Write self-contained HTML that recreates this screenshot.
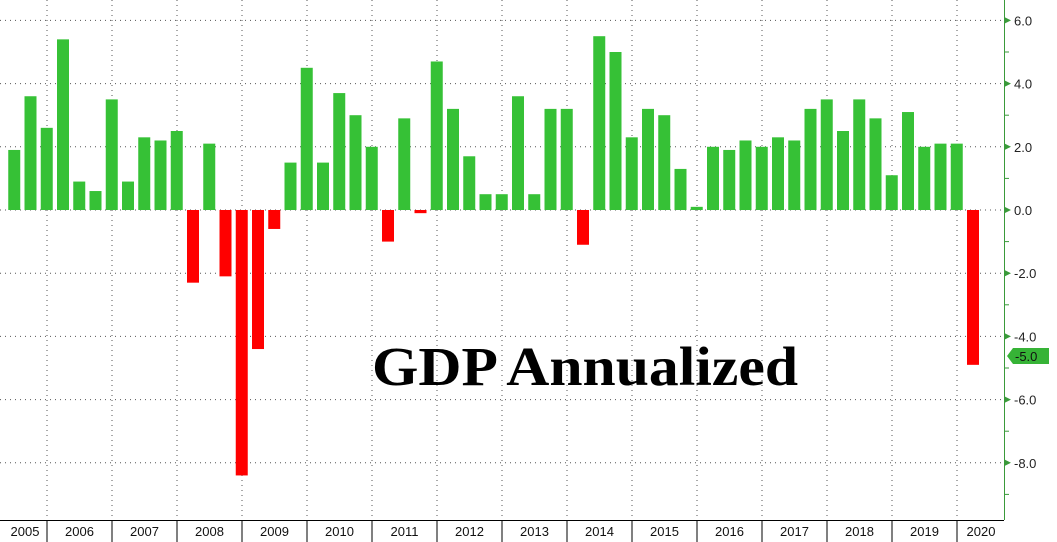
<!DOCTYPE html>
<html><head><meta charset="utf-8"><style>
html,body{margin:0;padding:0;background:#fff;width:1057px;height:542px;overflow:hidden}
svg{display:block}
</style></head><body>
<svg id="c" width="1057" height="542" xmlns="http://www.w3.org/2000/svg" font-family="Liberation Sans, DejaVu Sans, sans-serif">
<rect width="1057" height="542" fill="#fff"/>
<g id="grid"></g>
<g id="bars"></g>
<line x1="1004.5" y1="0" x2="1004.5" y2="520" stroke="#3a9a3a" stroke-width="1"/>
<line x1="0" y1="520.5" x2="1004" y2="520.5" stroke="#000" stroke-width="1"/>
<g id="axis"></g>
<text x="372" y="385" font-family="Liberation Serif, serif" font-weight="bold" font-size="55" textLength="426" lengthAdjust="spacingAndGlyphs" fill="#000">GDP Annualized</text>
</svg>
<script>
var v=[1.9,3.6,2.6, 5.4,0.9,0.6,3.5, 0.9,2.3,2.2,2.5, -2.3,2.1,-2.1,-8.4, -4.4,-0.6,1.5,4.5, 1.5,3.7,3.0,2.0, -1.0,2.9,-0.1,4.7, 3.2,1.7,0.5,0.5, 3.6,0.5,3.2,3.2, -1.1,5.5,5.0,2.3, 3.2,3.0,1.3,0.1, 2.0,1.9,2.2,2.0, 2.3,2.2,3.2,3.5, 2.5,3.5,2.9,1.1, 3.1,2.0,2.1,2.1, -4.9];
var z=210,k=31.6,ns="http://www.w3.org/2000/svg";
function el(p,t,a,txt){var e=document.createElementNS(ns,t);for(var i in a)e.setAttribute(i,a[i]);if(txt)e.textContent=txt;document.getElementById(p).appendChild(e);}
for(var i=0;i<v.length;i++){var x=8.25+i*16.25,h=v[i]*k;
el("bars","rect",{x:x,y:h>0?z-h:z,width:12,height:Math.max(Math.abs(h),1.5),fill:v[i]>=0?"#36c136":"#ff0000"});}
for(var g=-8;g<=6;g+=2){var y=z-g*k;el("grid","line",{x1:0,y1:y,x2:1004,y2:y,stroke:"#555","stroke-width":1,"stroke-dasharray":"1,4"});
el("axis","path",{d:"M1005 "+(y-3)+" L1011 "+y+" L1005 "+(y+3)+"Z",fill:"#3a9a3a"});
el("axis","text",{x:1014,y:y+5,"font-size":"13",fill:"#222"},g.toFixed(1));}
for(var g=-9;g<=5;g+=2){var y=z-g*k;el("axis","line",{x1:1004,y1:y,x2:1009,y2:y,stroke:"#3a9a3a"});}
var yrs=[2005,2006,2007,2008,2009,2010,2011,2012,2013,2014,2015,2016,2017,2018,2019,2020];
for(var j=0;j<16;j++){var d=47+(j-1)*65;var dx=47+j*65;
if(j<15){el("grid","line",{x1:dx,y1:0,x2:dx,y2:520,stroke:"#555","stroke-width":1,"stroke-dasharray":"1,4"});
el("axis","line",{x1:dx,y1:520,x2:dx,y2:542,stroke:"#000"});}
var cx=j==0?25:(j==15?(958+1004)/2:d+32.5);
el("axis","text",{x:cx,y:536,"font-size":"13","text-anchor":"middle",fill:"#111"},""+yrs[j]);}
el("axis","path",{d:"M1007 356 L1013 348 L1049 348 L1049 364 L1013 364Z",fill:"#36b336"});
el("axis","text",{x:1015,y:361,"font-size":"13",fill:"#111"},"-5.0");
</script>
</body></html>
